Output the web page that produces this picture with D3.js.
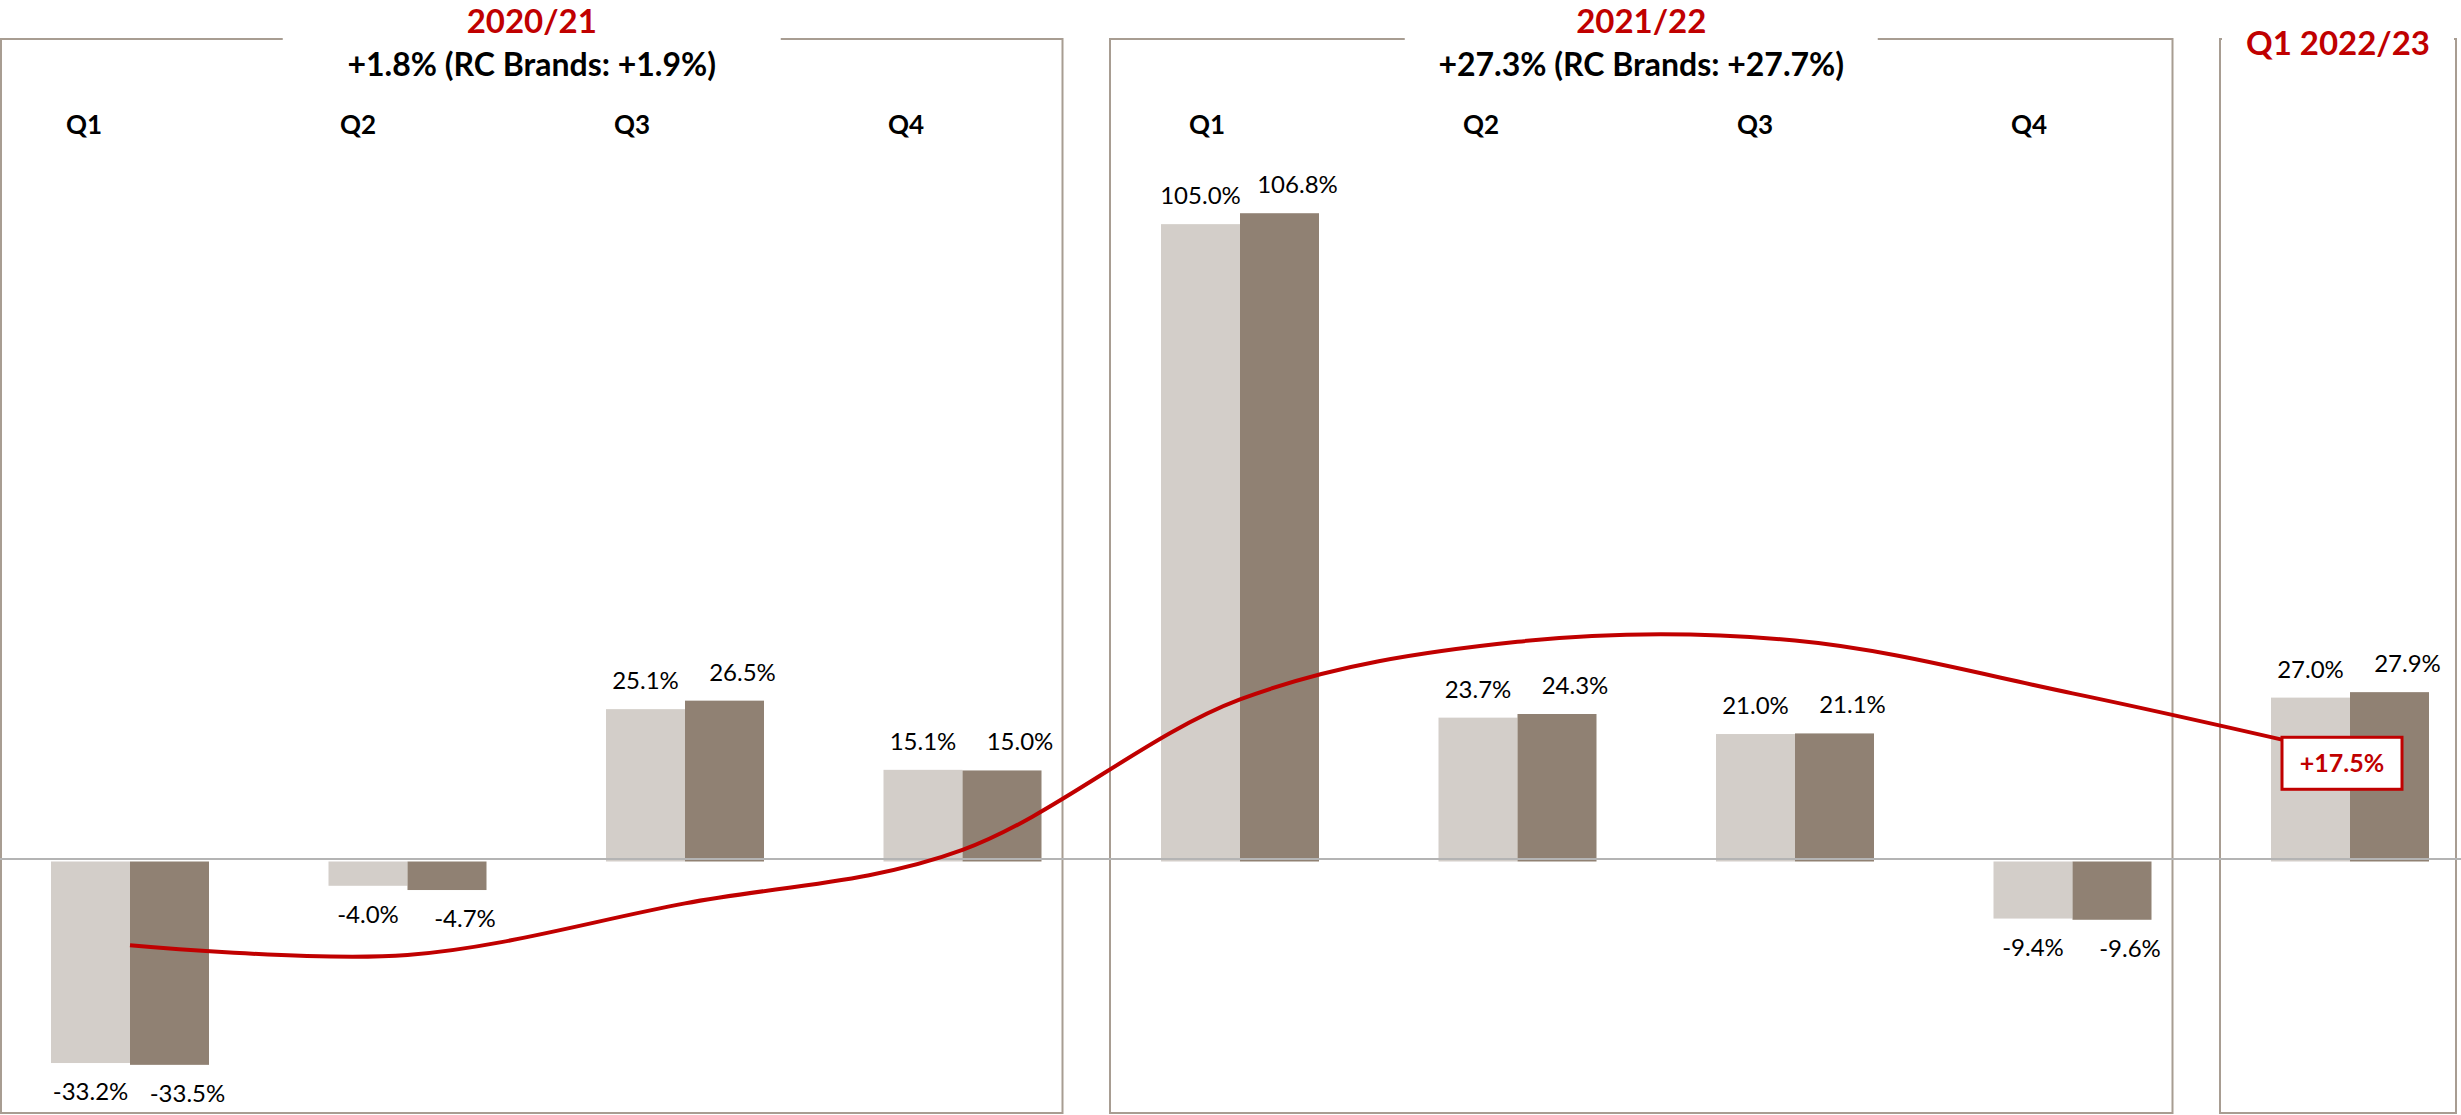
<!DOCTYPE html>
<html>
<head>
<meta charset="utf-8">
<script src="https://cdn.jsdelivr.net/npm/d3@7"></script>
<style>
  html, body { margin: 0; padding: 0; background: #fff; }
  svg { display: block; font-family: Lato, "Open Sans", sans-serif; }
</style>
</head>
<body>
<div id="chart"></div>
<script>
// quarter labels (last one sits under the "Q1 2022/23" title, so no own label)
var quarters = ["Q1", "Q2", "Q3", "Q4", "Q1", "Q2", "Q3", "Q4", "Q1"];
var periodOf = [0, 0, 0, 0, 1, 1, 1, 1, 2];
var periodNames = ["2020/21", "2021/22", "Q1 2022/23"];
var periodSubtitles = ["+1.8% (RC Brands: +1.9%)", "+27.3% (RC Brands: +27.7%)", ""];

// growth per quarter, %
var groupGrowth  = [-33.2, -4.0, 25.1, 15.1, 105.0, 23.7, 21.0, -9.4, 27.0];
var brandsGrowth = [-33.5, -4.7, 26.5, 15.0, 106.8, 24.3, 21.1, -9.6, 27.9];
// red trend line
var trendGrowth  = [-13.8, -15.4, -6.9, 1.9, 26.7, 36.2, 36.4, 27.7, 17.5];
var trendLabel = "+17.5%";

var width = 2461, height = 1115;
var red = "#c00000", frameCol = "#a89d92";
var colors = ["#d3cec9", "#908173"];

var svg = d3.select("#chart").append("svg")
  .attr("width", width)
  .attr("height", height);

var idx = d3.range(quarters.length);

var x = d3.scalePoint()
  .domain(idx)
  .range([130, 2350]);

// two bars side by side inside each quarter
var xs = d3.scaleBand()
  .domain([0, 1])
  .range([-79, 79]);

var y = d3.scaleLinear()
  .domain([0, 100])
  .range([861.5, 254.5]);

var fmt = function(v) { return v.toFixed(1) + "%"; };

// panel frames
var frameTop = 39, frameBottom = 1113;
var gapWidths = [498, 473, null];

periodNames.forEach(function(name, p) {
  var cats = idx.filter(function(i) { return periodOf[i] === p; });
  var left = Math.max(1, x(cats[0]) - 130);
  var right = Math.min(width - 5, x(cats[cats.length - 1]) + 100);
  if (p === 2) right = width - 5;
  var mid = (left + right) / 2;
  var gw = gapWidths[p] === null ? (right - left - 4) : gapWidths[p];

  svg.append("path")
    .attr("d", "M" + (mid + gw / 2) + "," + frameTop + "H" + right + "V" + frameBottom +
               "H" + left + "V" + frameTop + "H" + (mid - gw / 2))
    .attr("fill", "none")
    .attr("stroke", frameCol)
    .attr("stroke-width", 2);

  svg.append("text")
    .attr("x", mid)
    .attr("y", periodSubtitles[p] ? 33 : 55)
    .attr("text-anchor", "middle")
    .attr("font-size", 33)
    .attr("font-weight", "bold")
    .attr("fill", red)
    .text(name);

  if (periodSubtitles[p]) {
    svg.append("text")
      .attr("x", mid)
      .attr("y", 76)
      .attr("text-anchor", "middle")
      .attr("font-size", 32)
      .attr("font-weight", "bold")
      .attr("fill", "#000")
      .text(periodSubtitles[p]);
  }

  // quarter headings
  cats.forEach(function(i, k) {
    if (periodOf[i] === 2) return;
    var shift = (p === 0 ? 46 : 33) + 3.5 * k;
    svg.append("text")
      .attr("x", x(i) - shift)
      .attr("y", 134)
      .attr("text-anchor", "middle")
      .attr("font-size", 26)
      .attr("font-weight", "bold")
      .attr("fill", "#000")
      .text(quarters[i]);
  });
});

// bars
var series = [groupGrowth, brandsGrowth];
var groups = svg.append("g").selectAll("g")
  .data(idx)
  .enter().append("g")
  .attr("transform", function(i) { return "translate(" + x(i) + ",0)"; });

groups.selectAll("rect")
  .data(function(i) { return series.map(function(s, k) { return { k: k, v: s[i] }; }); })
  .enter().append("rect")
  .attr("x", function(d) { return xs(d.k); })
  .attr("width", xs.bandwidth())
  .attr("y", function(d) { return Math.min(y(d.v), y(0)); })
  .attr("height", function(d) { return Math.abs(y(d.v) - y(0)); })
  .attr("fill", function(d) { return colors[d.k]; });

groups.selectAll("text")
  .data(function(i) { return series.map(function(s, k) { return { k: k, v: s[i] }; }); })
  .enter().append("text")
  .attr("x", function(d) { return xs(d.k) + xs.bandwidth() / 2 + (d.k === 1 ? 18 : 0); })
  .attr("y", function(d) { return d.v >= 0 ? y(d.v) - 20 : y(d.v) + 37; })
  .attr("text-anchor", "middle")
  .attr("font-size", 24)
  .attr("fill", "#000")
  .text(function(d) { return fmt(d.v); });

// zero line
svg.append("line")
  .attr("x1", 0)
  .attr("x2", width)
  .attr("y1", y(0) - 2.5)
  .attr("y2", y(0) - 2.5)
  .attr("stroke", "#b4b4b4")
  .attr("stroke-width", 2);

// trend line
var line = d3.line()
  .x(function(i) { return x(i); })
  .y(function(i) { return y(trendGrowth[i]); })
  .curve(d3.curveCardinal.tension(0));

svg.append("path")
  .datum(idx)
  .attr("d", line)
  .attr("fill", "none")
  .attr("stroke", red)
  .attr("stroke-width", 4);

// label box at last point
var last = idx[idx.length - 1];
var bx = x(last) - 8, by = y(trendGrowth[last]) + 8;
svg.append("rect")
  .attr("x", bx - 60)
  .attr("y", by - 26)
  .attr("width", 120)
  .attr("height", 52)
  .attr("fill", "#fff")
  .attr("stroke", red)
  .attr("stroke-width", 3);

svg.append("text")
  .attr("x", bx)
  .attr("y", by + 9)
  .attr("text-anchor", "middle")
  .attr("font-size", 25)
  .attr("font-weight", "bold")
  .attr("fill", red)
  .text(trendLabel);
</script>
</body>
</html>
